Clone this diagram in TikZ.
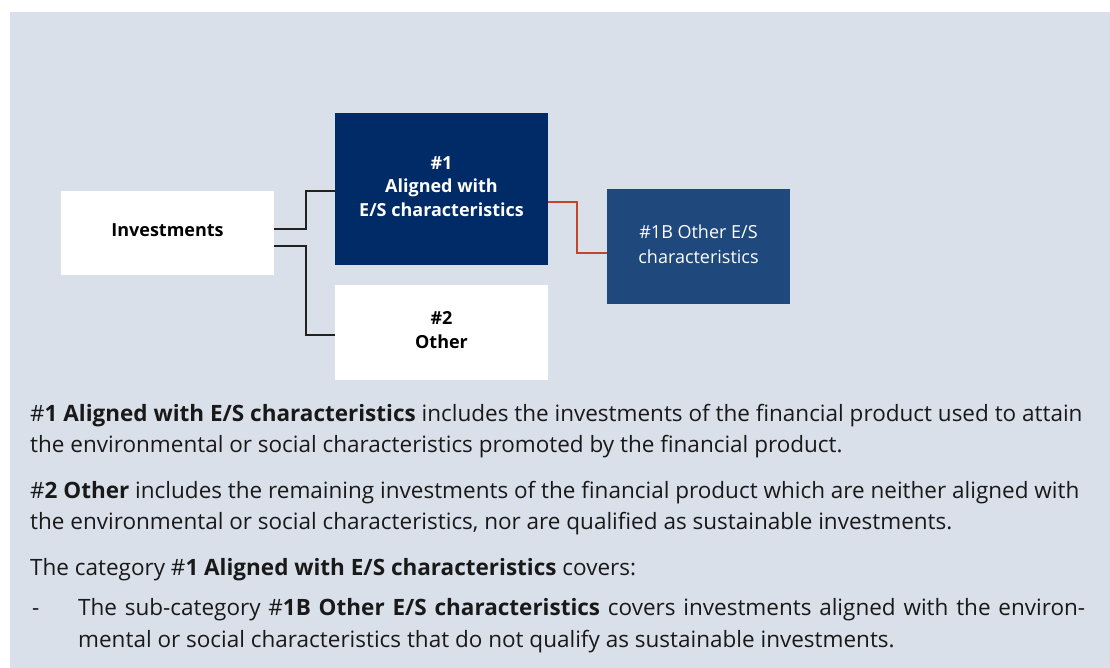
\documentclass[tikz,border=0pt]{standalone}
\usepackage{fontspec}
\setmainfont{Open Sans}
\usetikzlibrary{calc}
\definecolor{bgc}{HTML}{D9E0EA}
\definecolor{navy}{HTML}{002B66}
\definecolor{midblue}{HTML}{1F497D}
\definecolor{redline}{HTML}{C4452A}
\definecolor{conn}{HTML}{222222}
\tikzset{
  box/.style={rectangle, inner sep=0pt},
  boxtext/.style={align=center, inner sep=0pt, yshift=2.5pt, font=\fontsize{18}{23.5}\selectfont},
  connector/.style={draw=conn, line width=1.3pt},
  redconn/.style={draw=redline, line width=1.5pt},
  para/.style={anchor=base west, inner sep=0pt, font=\fontsize{22.5}{24}\selectfont, text=black!90}
}
\begin{document}
\begin{tikzpicture}[x=1pt,y=-1pt]
\useasboundingbox (0,0) rectangle (1110,668);
\fill[white] (0,0) rectangle (1110,668);
\fill[bgc] (10,12) rectangle (1110,668);
% boxes
\node[box, fill=white, minimum width=213pt, minimum height=84pt,
  label={[boxtext, text=black]center:\bfseries Investments}] (inv) at (167.5,233) {};
\node[box, fill=navy, minimum width=213pt, minimum height=152pt,
  label={[boxtext, text=white, font=\fontsize{18}{23.5}\selectfont\bfseries]center:\#1\\Aligned with\\E/S characteristics}] (a1) at (441.5,189) {};
\node[box, fill=white, minimum width=213pt, minimum height=95pt,
  label={[boxtext, text=black, font=\fontsize{18}{23.5}\selectfont\bfseries]center:\#2\\Other}] (o2) at (441.5,332.5) {};
\node[box, fill=midblue, minimum width=183pt, minimum height=115pt,
  label={[boxtext, text=white, font=\fontsize{18}{25}\selectfont]center:\#1B Other E/S\\characteristics}] (b1) at (698.5,246.5) {};
% connectors
\coordinate (j1) at (306,0);
\coordinate (j2) at (577,0);
\coordinate (s1) at ($(inv.east)+(0,-4)$);
\coordinate (e1) at ($(a1.west)+(0,2)$);
\coordinate (s2) at ($(inv.east)+(0,13)$);
\coordinate (e2) at ($(o2.west)+(0,2.5)$);
\coordinate (s3) at ($(a1.east)+(0,13)$);
\coordinate (e3) at ($(b1.west)+(0,6.5)$);
\draw[connector] (s1) -- (s1 -| j1) |- (e1);
\draw[connector] (s2) -- (s2 -| j1) |- (e2);
\draw[redconn] (s3) -- (s3 -| j2) |- (e3);
% text
\node[para] (p1) at (30,421) {\#\textbf{1 Aligned with E/S characteristics} includes the investments of the financial product used to attain};
\node[para] (p2) at (30,452) {the environmental or social characteristics promoted by the financial product.};
\node[para] (p3) at (30,498) {\#\textbf{2 Other} includes the remaining investments of the financial product which are neither aligned with};
\node[para] (p4) at (30,529) {the environmental or social characteristics, nor are qualified as sustainable investments.};
\node[para] (p5) at (30,575) {The category \#\textbf{1 Aligned with E/S characteristics} covers:};
\node[para] (p6) at (32,615) {-};
\node[para] (p7) at (78,615) {\makebox[1007pt][s]{The sub-category \#\textbf{1B Other E/S characteristics} covers investments aligned with the environ-}};
\node[para] (p8) at (78,647) {mental or social characteristics that do not qualify as sustainable investments.};
\end{tikzpicture}
\end{document}
